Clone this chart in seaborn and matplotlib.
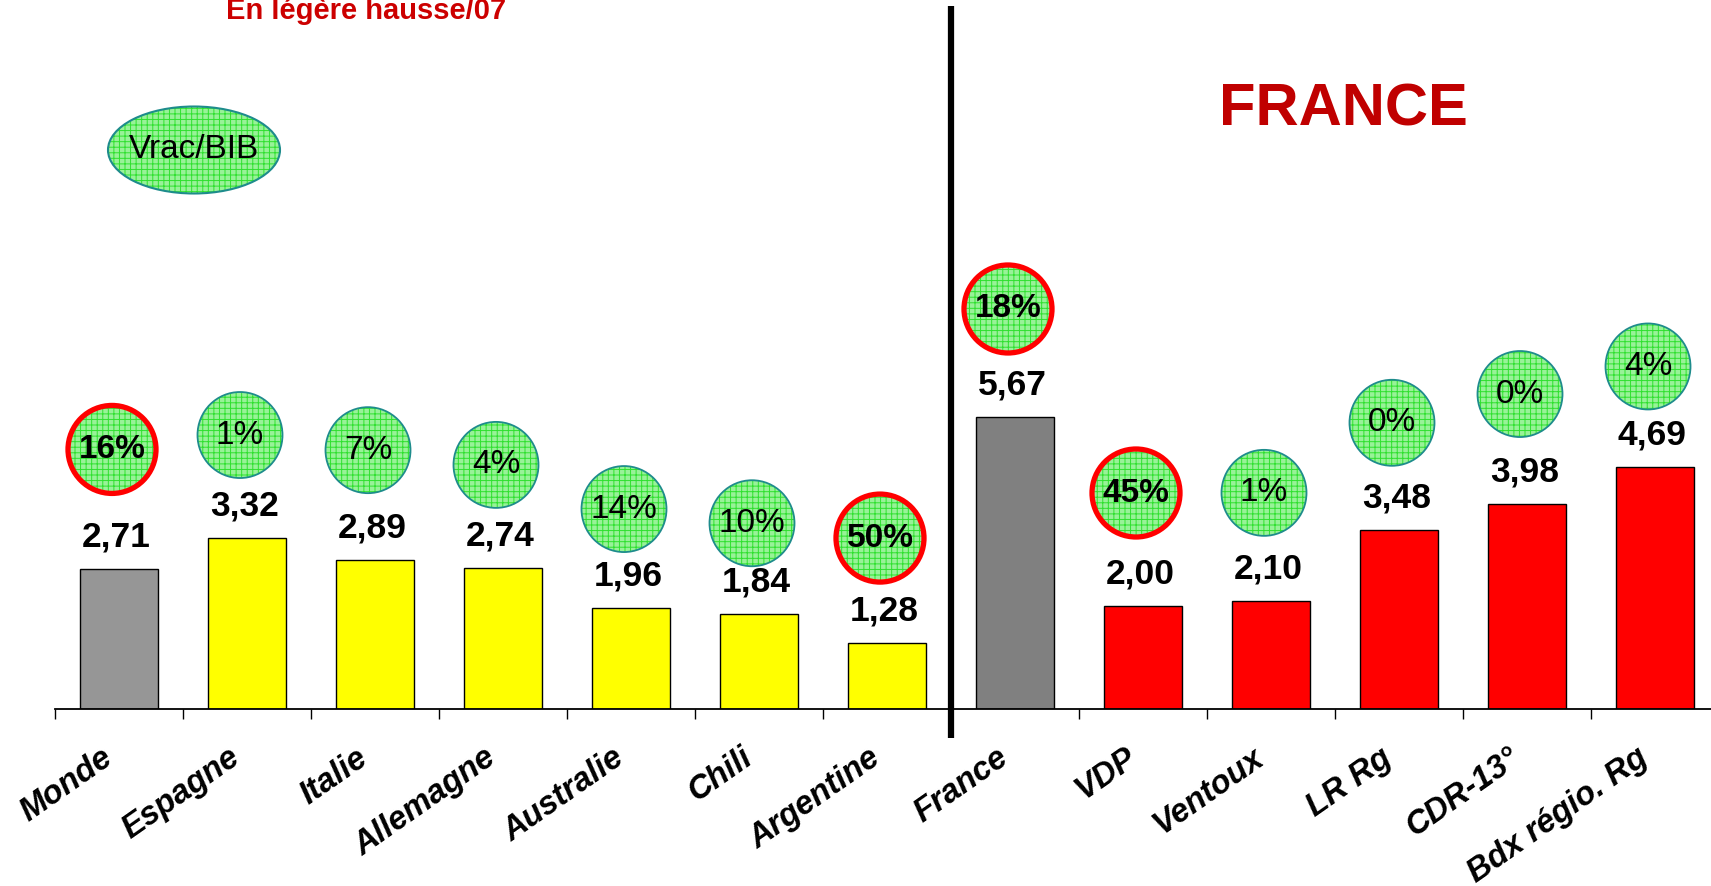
import numpy as np
import matplotlib
matplotlib.use("Agg")
import matplotlib.pyplot as plt
from matplotlib.patches import Ellipse
from matplotlib.transforms import ScaledTranslation
import seaborn as sns

# Prix moyen (€/l) par origine et évolution en %
categories = ["Monde", "Espagne", "Italie", "Allemagne", "Australie", "Chili",
              "Argentine", "France", "VDP", "Ventoux", "LR Rg", "CDR-13°",
              "Bdx régio. Rg"]
prices = [2.71, 3.32, 2.89, 2.74, 1.96, 1.84, 1.28, 5.67, 2.00, 2.10, 3.48,
          3.98, 4.69]
changes = [16, 1, 7, 4, 14, 10, 50, 18, 45, 1, 0, 0, 4]
groups = ["total", "monde", "monde", "monde", "monde", "monde", "monde",
          "total", "france", "france", "france", "france", "france"]

title_text = "En légère hausse/07"
section_text = "FRANCE"
badge_text = "Vrac/BIB"

sns.set_style("white")
plt.rcParams["font.family"] = ["Liberation Sans", "DejaVu Sans"]
plt.rcParams["text.color"] = "black"
plt.rcParams["xtick.color"] = "black"
plt.rcParams["xtick.labelcolor"] = "black"
plt.rcParams["hatch.linewidth"] = 0.7

DPI = 100
W, H = 1711, 886
fig = plt.figure(figsize=(W / DPI, H / DPI), dpi=DPI)

# axes geometry in pixels
ax_left, ax_bottom_px = 55, 709          # left edge, baseline row from top
cat_px = 128                             # pixels per category
unit_px = 51.5                           # pixels per €/l
ax = fig.add_axes([ax_left / W, (H - ax_bottom_px) / H,
                   len(categories) * cat_px / W, ax_bottom_px / H])

palette = []
for i, g in enumerate(groups):
    if g == "total":
        palette.append("#969696" if i == 0 else "#808080")
    elif g == "monde":
        palette.append("#FFFF00")
    else:
        palette.append("#FF0000")

sns.barplot(x=categories, y=prices, hue=categories, palette=palette,
            legend=False, width=0.61, edgecolor="black", linewidth=1.0,
            saturation=1, ax=ax)
ax.set_xlim(-0.5, len(categories) - 0.5)
ax.set_ylim(0, ax_bottom_px / unit_px)

# value labels above the bars
for i, v in enumerate(prices):
    ax.annotate(f"{v:.2f}".replace(".", ","), xy=(i, v),
                xytext=(-2, 32 * 72 / DPI), textcoords="offset points",
                ha="center", va="center", fontsize=25.5, fontweight="bold",
                color="black")

# round badges with the yearly change
lift_px = [120, 103, 110, 103, 99, 91, 105, 108, 113, 108, 107, 110, 101]
for i, (v, pct) in enumerate(zip(prices, changes)):
    cx = i - 7 / cat_px
    cy = v + lift_px[i] / unit_px
    strong = pct >= 15
    w = (88 if strong else 85) / cat_px
    h = (88 if strong else 86) / unit_px
    ax.add_patch(Ellipse((cx, cy), w, h, facecolor="#98F298",
                         edgecolor="#2FE02F", hatch="+++", linewidth=0,
                         zorder=4))
    ax.add_patch(Ellipse((cx, cy), w, h, fill=False,
                         edgecolor="#FF0000" if strong else "#1E8C8C",
                         linewidth=3.8 if strong else 1.3, zorder=5))
    ax.text(cx, cy, f"{pct}%", ha="center", va="center", fontsize=24,
            fontweight="bold" if strong else "normal", color="black",
            zorder=6)

# "Vrac/BIB" badge
bx = (194 - ax_left) / cat_px - 0.5
by = (ax_bottom_px - 150) / unit_px
ax.add_patch(Ellipse((bx, by), 172 / cat_px, 87 / unit_px,
                     facecolor="#98F298", edgecolor="#2FE02F", hatch="+++",
                     linewidth=0, zorder=4, clip_on=False))
ax.add_patch(Ellipse((bx, by), 172 / cat_px, 87 / unit_px, fill=False,
                     edgecolor="#1E8C8C", linewidth=1.5, zorder=5,
                     clip_on=False))
ax.text(bx, by, badge_text, ha="center", va="center", fontsize=24,
        color="black", zorder=6)

# separator between world and France
ax.plot([6.5, 6.5], [-29 / unit_px, (ax_bottom_px - 6) / unit_px],
        color="black", linewidth=4.5, solid_capstyle="butt", clip_on=False,
        zorder=7)

# texts
fig.text(366 / W, (H - 19) / H, title_text, ha="center", va="baseline",
         fontsize=21, fontweight="bold", color="#CC0000")
fig.text(1343 / W, (H - 125) / H, section_text, ha="center", va="baseline",
         fontsize=43, fontweight="bold", color="#C00000")

# axis styling
for s in ["left", "right", "top"]:
    ax.spines[s].set_visible(False)
ax.spines["bottom"].set_linewidth(1.3)
ax.spines["bottom"].set_color("black")
ax.set_yticks([])
ax.set_ylabel("")
ax.set_xlabel("")
ax.set_xticks(np.arange(-0.5, len(categories), 1), minor=True)
ax.tick_params(axis="x", which="minor", bottom=True, length=7.5, width=1.0,
               direction="out", color="black")
ax.set_xticks(range(len(categories)))
ax.set_xticklabels(categories, rotation=35, ha="right", va="center",
                   rotation_mode="anchor", fontsize=23.5, fontweight="bold",
                   fontstyle="italic", color="black")
ax.tick_params(axis="x", which="major", bottom=True, length=0, pad=33,
               labelcolor="black")
shift = ScaledTranslation(-10 / DPI, 0, fig.dpi_scale_trans)
for lbl in ax.get_xticklabels():
    lbl.set_transform(lbl.get_transform() + shift)

fig.savefig("out.png", dpi=DPI)
